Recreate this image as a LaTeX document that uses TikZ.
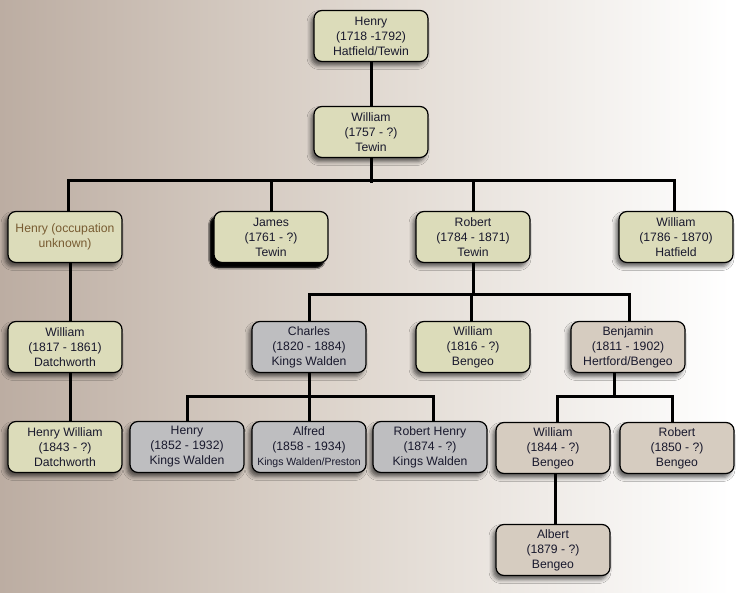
\documentclass[tikz,border=0pt]{standalone}
\usepackage{fontspec}
\setmainfont{Liberation Sans}
\usetikzlibrary{shadows,shadows.blur}
\definecolor{bgL}{RGB}{188,173,162}
\definecolor{bgM}{RGB}{224,216,208}
\definecolor{fillG}{RGB}{220,220,186}
\definecolor{fillS}{RGB}{190,190,192}
\definecolor{fillT}{RGB}{214,204,192}
\definecolor{txt}{RGB}{25,25,45}
\definecolor{brn}{RGB}{120,92,50}
\tikzset{
  person/.style={draw=black, line width=1.2pt, rounded corners=8pt,
    minimum width=114pt, minimum height=51pt, inner sep=0pt,
    align=center, text=txt, font=\fontsize{12.2}{15}\selectfont,
    blur shadow={shadow xshift=-3pt, shadow yshift=-4pt, shadow blur radius=4pt, shadow opacity=60}},
  pg/.style={person, fill=fillG},
  ps/.style={person, fill=fillS},
  pt/.style={person, fill=fillT},
  conn/.style={line width=3pt, draw=black},
}
\begin{document}
\begin{tikzpicture}[x=1pt,y=-1pt]
\useasboundingbox (0,0) rectangle (750,593);
\fill[white] (0,0) rectangle (750,593);
\shade[left color=bgL, right color=white, middle color=bgM] (0,0) rectangle (730,593);
% nodes
\node[pg] (h18) at (371,36) {Henry\\(1718 -1792)\\Hatfield/Tewin};
\node[pg] (w57) at (371,132) {William\\(1757 - ?)\\Tewin};
\node[pg, text=brn] (hocc) at (65,237) {Henry (occupation\\unknown)};
\node[pg, blur shadow={shadow xshift=-4pt, shadow yshift=-5pt, shadow blur radius=1.5pt, shadow opacity=95}] (jam) at (271,237) {James\\(1761 - ?)\\Tewin};
\node[pg] (r84) at (473,237) {Robert\\(1784 - 1871)\\Tewin};
\node[pg] (w86) at (676,237) {William\\(1786 - 1870)\\Hatfield};
\node[pg] (w17) at (65,347) {William\\(1817 - 1861)\\Datchworth};
\node[ps] (cha) at (309,347) {Charles\\(1820 - 1884)\\Kings Walden};
\node[pg] (w16) at (473,347) {William\\(1816 - ?)\\Bengeo};
\node[pt] (ben) at (628,347) {Benjamin\\(1811 - 1902)\\Hertford/Bengeo};
\node[pg] (hw43) at (65,447) {Henry William\\(1843 - ?)\\Datchworth};
\node[ps] (h52) at (187,447) {Henry\\(1852 - 1932)\\Kings Walden};
\node[ps] (alf) at (309,447) {Alfred\\(1858 - 1934)\\{\fontsize{10.5}{15}\selectfont Kings Walden/Preston}};
\node[ps] (rh74) at (430,447) {Robert Henry\\(1874 - ?)\\Kings Walden};
\node[pt] (w44) at (553,448) {William\\(1844 - ?)\\Bengeo};
\node[pt] (r50) at (677,448) {Robert\\(1850 - ?)\\Bengeo};
\node[pt] (alb) at (553,550) {Albert\\(1879 - ?)\\Bengeo};
% lines
\draw[conn] (h18.south) -- (w57.north);
\draw[conn] (w57.south) -- ++(0,25);
\draw[conn] ([xshift=3pt]hocc.north) -- ++(0,-30) -| ([xshift=-2pt]w86.north);
\draw[conn] (jam.north) -- ++(0,-30);
\draw[conn] (r84.north) -- ++(0,-30);
\draw[conn] ([xshift=5pt]hocc.south) -- ([xshift=5pt]w17.north);
\draw[conn] ([xshift=5pt]w17.south) -- ([xshift=5pt]hw43.north);
\draw[conn] (r84.south) -- ++(0,32);
\draw[conn] (cha.north) -- ++(0,-26) -| ([xshift=1pt]ben.north);
\draw[conn] ([xshift=-2pt]w16.north) -- ++(0,-26);
\draw[conn] (cha.south) -- ++(0,25);
\draw[conn] (h52.north) -- ++(0,-24) -| ([xshift=3pt]rh74.north);
\draw[conn] (alf.north) -- ++(0,-24);
\draw[conn] ([xshift=-14pt]ben.south) -- ++(0,25);
\draw[conn] ([xshift=4pt]w44.north) -- ++(0,-25) -| ([xshift=-5pt]r50.north);
\draw[conn] ([xshift=2pt]w44.south) -- ([xshift=2pt]alb.north);
\end{tikzpicture}
\end{document}
